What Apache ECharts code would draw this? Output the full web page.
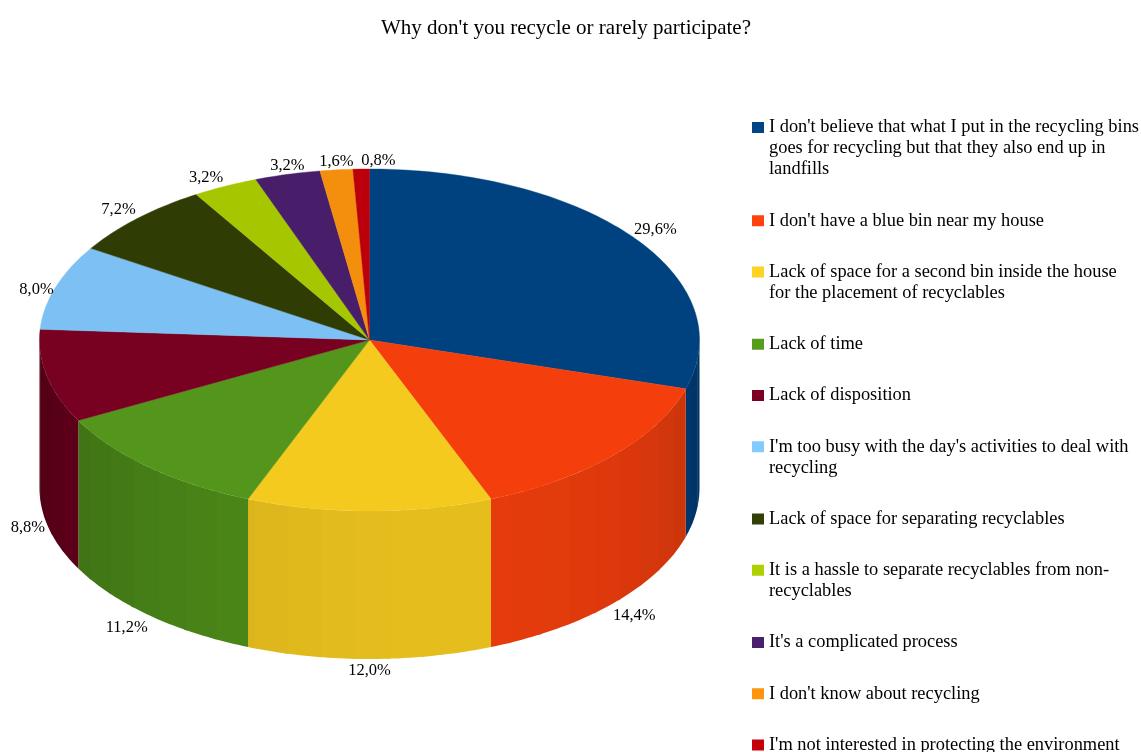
<!DOCTYPE html>
<html>
<head>
<meta charset="utf-8">
<style>html,body{margin:0;padding:0;background:#fff}#chart{width:1141px;height:752px}</style>
<script src="https://cdn.jsdelivr.net/npm/echarts@6/dist/echarts.min.js"></script>
</head>
<body>
<div id="chart"></div>
<script>
const titleText = "Why don't you recycle or rarely participate?";
const categories = [
  "I don't believe that what I put in the recycling bins\ngoes for recycling but that they also end up in\nlandfills",
  "I don't have a blue bin near my house",
  "Lack of space for a second bin inside the house\nfor the placement of recyclables",
  "Lack of time",
  "Lack of disposition",
  "I'm too busy with the day's activities to deal with\nrecycling",
  "Lack of space for separating recyclables",
  "It is a hassle to separate recyclables from non-\nrecyclables",
  "It's a complicated process",
  "I don't know about recycling",
  "I'm not interested in protecting the environment"
];
const percentages = [29.6, 14.4, 12.0, 11.2, 8.8, 8.0, 7.2, 3.2, 3.2, 1.6, 0.8];
const colors = ['#004586', '#ff420e', '#ffd320', '#579d1c', '#7e0021', '#83caff', '#314004', '#aecf00', '#4b1f6f', '#ff950e', '#c5000b'];
// Which corner of each value label sits on the rim point of its slice
const labelAnchors = ['lb', 'lt', 'ct', 'rt', 'rm', 'rm', 'rb', 'rb', 'cb', 'cb', 'lb'];

// Projected pie: ellipse of the lid and height of the drum
const CX = 369.5, CY = 340, RX = 330, RY = 171, DEPTH = 148;
const LID_SHADE = 0.955;
const BAND_DEG = 6;

const LINE_H = 21, ROW_GAP = 30.25, LEGEND_X = 752, LEGEND_FIRST_LINE_Y = 127.5;

function rim(deg, drop) {
  const a = deg * Math.PI / 180;
  return [CX + RX * Math.sin(a), CY - RY * Math.cos(a) + drop];
}
function shadeColor(hex, k) {
  const n = parseInt(hex.slice(1), 16);
  const c = [(n >> 16) & 255, (n >> 8) & 255, n & 255].map(v => Math.round(v * k));
  return 'rgb(' + c.join(',') + ')';
}
// Wall brightness falls off away from a light placed low and to the right
function wallShade(deg) {
  return 0.68 + 0.22 * Math.cos((deg - 165) * Math.PI / 180);
}
function arcPoints(from, to, drop) {
  const pts = [];
  const n = Math.max(1, Math.ceil(Math.abs(to - from)));
  for (let i = 0; i <= n; i++) pts.push(rim(from + (to - from) * i / n, drop));
  return pts;
}

function renderSlice(color, label, anchor) {
  return function (params, api) {
    const start = api.value(0) * 3.6, end = api.value(1) * 3.6;
    const children = [];

    // Outer wall on the front half of the drum; each flat band is drawn
    // slightly past its end so the next one covers the seam
    const wallFrom = Math.max(start, 90), wallTo = Math.min(end, 270);
    if (wallTo > wallFrom) {
      for (let d = wallFrom; d < wallTo; d += BAND_DEG) {
        const e = Math.min(d + BAND_DEG, wallTo);
        const over = Math.min(e + 0.6, wallTo);
        children.push({
          type: 'polygon',
          shape: { points: arcPoints(d, over, 0).concat(arcPoints(over, d, DEPTH)) },
          style: { fill: shadeColor(color, wallShade((d + e) / 2)) }
        });
      }
    }

    // Lid
    const lidFill = shadeColor(color, LID_SHADE);
    children.push({
      type: 'polygon',
      z2: 5,
      shape: { points: [[CX, CY]].concat(arcPoints(start, end, 0)) },
      style: { fill: lidFill, stroke: lidFill, lineWidth: 0.4 }
    });

    // Value label just outside the rim
    const mid = (start + end) / 2;
    const onFront = mid > 90 && mid < 270;
    const p = rim(mid, onFront ? DEPTH : 0);
    children.push({
      type: 'text',
      z2: 10,
      x: p[0] + (anchor[0] === 'r' ? -2 : 0),
      y: p[1] + { t: 3.5, m: 3, b: 0 }[anchor[1]],
      style: {
        text: label,
        fill: '#000',
        font: '16.5px "Liberation Serif"',
        align: { l: 'left', c: 'center', r: 'right' }[anchor[0]],
        verticalAlign: { t: 'top', m: 'middle', b: 'bottom' }[anchor[1]]
      }
    });
    return { type: 'group', children: children };
  };
}

let running = 0;
const series = categories.map((name, i) => {
  const from = running;
  running += percentages[i];
  return {
    type: 'custom',
    name: name,
    coordinateSystem: 'none',
    itemStyle: { color: colors[i] },
    silent: true,
    data: [[from, running]],
    renderItem: renderSlice(colors[i], percentages[i].toFixed(1).replace('.', ',') + '%', labelAnchors[i])
  };
});

// One legend block per category. A legend swatch centres on its text block,
// so blank leading rows bring it level with the first row of wrapped text.
let lineY = LEGEND_FIRST_LINE_Y;
const legends = categories.map((name, i) => {
  const rows = name.split('\n').length;
  const block = {
    data: [{ name: name, icon: 'rect' }],
    formatter: n => '\n'.repeat(rows - 1) + n,
    left: LEGEND_X,
    top: lineY - LINE_H / 2 - (rows - 1) * LINE_H,
    padding: 0,
    itemWidth: 12,
    itemHeight: 11,
    itemGap: 0,
    selectedMode: false,
    textStyle: {
      color: '#000',
      fontFamily: 'Liberation Serif',
      fontSize: 18.4,
      lineHeight: LINE_H
    }
  };
  lineY += rows * LINE_H + ROW_GAP;
  return block;
});

const chart = echarts.init(document.getElementById('chart'), null, { renderer: 'canvas' });
chart.setOption({
  animation: false,
  backgroundColor: '#fff',
  title: {
    text: titleText,
    left: 566,
    top: 18,
    padding: 0,
    textAlign: 'center',
    textStyle: { color: '#000', fontFamily: 'Liberation Serif', fontSize: 21, fontWeight: 'normal' }
  },
  legend: legends,
  series: series
});
</script>
</body>
</html>
